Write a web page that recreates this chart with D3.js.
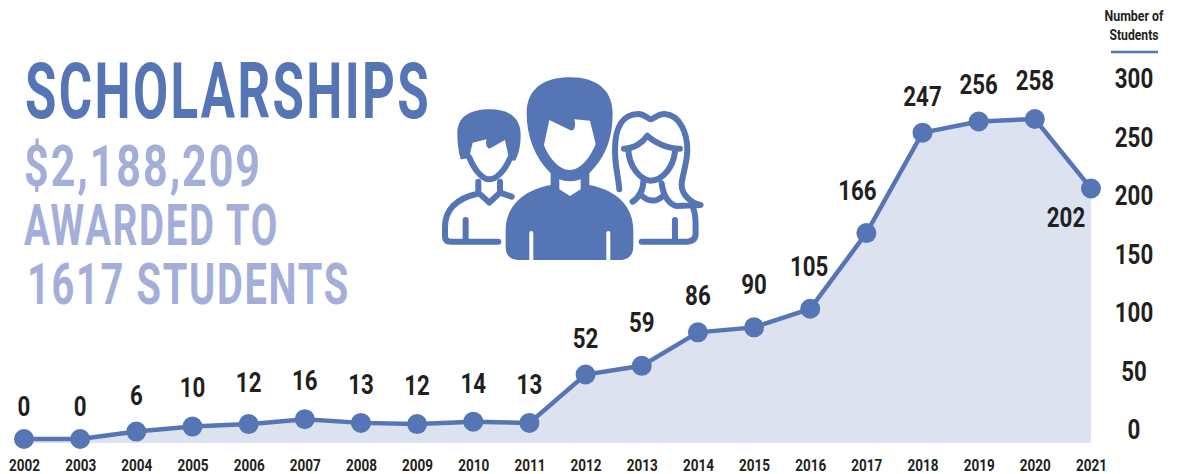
<!DOCTYPE html>
<html>
<head>
<meta charset="utf-8">
<script src="https://d3js.org/d3.v7.min.js"></script>
<style>
  html, body { margin: 0; padding: 0; background: #fff; }
  svg { display: block; }
  text { font-family: Roboto, sans-serif; font-weight: 700; }
</style>
</head>
<body>
<svg id="chart" width="1178" height="474"></svg>
<script>
const years = ['2002','2003','2004','2005','2006','2007','2008','2009','2010','2011','2012','2013','2014','2015','2016','2017','2018','2019','2020','2021'];
const students = [0,0,6,10,12,16,13,12,14,13,52,59,86,90,105,166,247,256,258,202];
const axisTicks = [0,50,100,150,200,250,300];
const titleLines = ['SCHOLARSHIPS','$2,188,209','AWARDED TO','1617 STUDENTS'];
const axisTitle = ['Number of','Students'];

// how far each value label sits from its point
const labelDx = [0,0,0,0,0,0,0,0,0,0,0,0,0,0,-1,-9,0,0,0,-25];
const labelDy = [-33,-33,-37,-40,-42,-39,-39,-39,-39,-39,-37,-44,-37,-43,-43,-43,-37,-37,-39,29];

const blue = '#5575b5';
const lightBlue = '#a3afd8';
const fillBlue = '#dde2f1';
const ink = '#231f20';

const svg = d3.select('#chart');

const x = d3.scalePoint().domain(years).range([24, 1091]);
const y = d3.scaleLinear().domain([0, 258]).range([439, 119]);
// the printed axis does not line up with the points, so it has its own scale
const yTicks = d3.scaleLinear().domain([0, 300]).range([429, 78]);

// area
const area = d3.area()
  .x((d, i) => x(years[i]))
  .y0(443)
  .y1(d => y(d));
svg.append('path').datum(students).attr('d', area).attr('fill', fillBlue);

// line and points
const line = d3.line().x((d, i) => x(years[i])).y(d => y(d));
svg.append('path').datum(students).attr('d', line)
  .attr('fill', 'none').attr('stroke', blue).attr('stroke-width', 4.5);
svg.selectAll('circle.pt').data(students).join('circle')
  .attr('class', 'pt')
  .attr('cx', (d, i) => x(years[i]))
  .attr('cy', d => y(d))
  .attr('r', 10)
  .attr('fill', blue);

// value labels
svg.selectAll('text.val').data(students).join('text')
  .attr('class', 'val')
  .attr('x', (d, i) => x(years[i]) + labelDx[i])
  .attr('y', (d, i) => y(d) + labelDy[i] + 10)
  .attr('text-anchor', 'middle')
  .attr('font-size', 27)
  .attr('fill', ink)
  .attr('textLength', d => String(d).length * 12.8)
  .attr('lengthAdjust', 'spacingAndGlyphs')
  .text(d => d);

// x axis
const xAxisG = svg.append('g').attr('transform', 'translate(0,471)')
  .call(d3.axisBottom(x).tickSize(0).tickPadding(0));
xAxisG.select('.domain').remove();
xAxisG.selectAll('text')
  .attr('y', 0).attr('dy', 0)
  .attr('font-size', 16)
  .attr('fill', ink)
  .attr('textLength', 31)
  .attr('lengthAdjust', 'spacingAndGlyphs');

// y axis
const yAxisG = svg.append('g').attr('transform', 'translate(1134,0)')
  .call(d3.axisRight(yTicks).tickValues(axisTicks).tickSize(0).tickPadding(0));
yAxisG.select('.domain').remove();
yAxisG.selectAll('text')
  .attr('x', 0).attr('dy', '0.36em')
  .attr('text-anchor', 'middle')
  .attr('font-size', 27)
  .attr('fill', ink)
  .attr('textLength', d => String(d).length * 12.8)
  .attr('lengthAdjust', 'spacingAndGlyphs');

// axis title
svg.selectAll('text.axt').data(axisTitle).join('text')
  .attr('class', 'axt')
  .attr('x', 1134)
  .attr('y', (d, i) => 21 + i * 19)
  .attr('text-anchor', 'middle')
  .attr('font-size', 14)
  .attr('fill', ink)
  .attr('textLength', (d, i) => [59, 49][i])
  .attr('lengthAdjust', 'spacingAndGlyphs')
  .text(d => d);
svg.append('line')
  .attr('x1', 1111).attr('x2', 1158).attr('y1', 52).attr('y2', 52)
  .attr('stroke', blue).attr('stroke-width', 2.5);

// headline block
const titleStyle = [
  { x: 25, y: 118, size: 77, w: 406, c: blue, ls: 3.5 },
  { x: 24, y: 186, size: 58, w: 238, c: lightBlue, ls: 2.5 },
  { x: 24, y: 245, size: 58, w: 255, c: lightBlue, ls: 2.5 },
  { x: 27, y: 304, size: 58, w: 323, c: lightBlue, ls: 2.5 }
];
svg.selectAll('text.ttl').data(titleLines).join('text')
  .attr('class', 'ttl')
  .attr('x', (d, i) => titleStyle[i].x)
  .attr('y', (d, i) => titleStyle[i].y)
  .attr('font-size', (d, i) => titleStyle[i].size)
  .attr('letter-spacing', (d, i) => titleStyle[i].ls)
  .attr('fill', (d, i) => titleStyle[i].c)
  .attr('textLength', (d, i) => titleStyle[i].w)
  .attr('lengthAdjust', 'spacingAndGlyphs')
  .text(d => d);

// people icon, drawn at 3x and scaled down
const icon = svg.append('g').attr('transform', 'translate(430,70) scale(0.3333)');
const outline = p => icon.append('path').attr('d', p).attr('fill', 'none')
  .attr('stroke', blue).attr('stroke-width', 18)
  .attr('stroke-linecap', 'round').attr('stroke-linejoin', 'round');
const solid = (p, c) => icon.append('path').attr('d', p).attr('fill', c);

// left boy
solid('M82,190 C82,140 120,118 180,118 C240,118 272,145 272,195 C272,230 265,255 255,272 L238,270 L225,210 L178,236 C168,232 166,220 170,208 L128,218 L117,265 L92,268 C84,240 82,215 82,190 Z', blue);
outline('M118,262 C135,305 160,328 178,328 C200,328 225,300 240,265');
outline('M145,335 L145,368 L178,398 L210,368 L210,335');
outline('M140,372 C80,385 45,420 45,470 L45,498 Q45,515 62,515 L205,515');
outline('M210,368 L245,380');
outline('M107,450 L107,510');

// right girl
outline('M568,358 C565,320 555,290 555,240 C555,170 580,132 625,132 C645,132 655,148 662,148 C670,148 685,130 705,132 C750,135 772,190 772,240 C772,280 755,320 755,345 C755,375 785,400 812,405 L740,408 C720,405 700,380 695,340');
outline('M582,236 C615,236 640,215 652,197 C670,215 710,236 750,236');
outline('M595,240 C598,290 630,330 662,332 C700,330 730,290 735,245');
outline('M640,335 C640,360 625,385 608,395');
outline('M630,372 C655,398 680,398 702,375');
outline('M790,415 C800,440 796,470 797,490 Q797,515 770,515 L635,515');
outline('M735,450 L735,510');

// centre man
solid('M290,130 C290,50 350,22 420,22 C500,22 548,60 548,130 C548,200 530,260 478,310 L478,345 C560,360 610,410 610,480 L610,530 C610,555 595,570 570,570 L265,570 C240,570 227,555 227,530 L227,480 C227,410 280,360 362,345 L362,310 C315,265 290,200 290,130 Z', blue);
solid('M358,150 L415,178 C430,188 440,175 433,148 L480,152 L497,222 C480,265 450,300 420,300 C385,300 355,260 342,225 Z', '#fff');
solid('M388,328 C405,336 435,336 452,328 L452,358 L420,378 L388,358 Z', '#fff');
solid('M298,490 Q298,483 304,483 Q310,483 310,490 L310,570 L298,570 Z', '#fff');
solid('M529,490 Q529,483 535,483 Q541,483 541,490 L541,570 L529,570 Z', '#fff');
</script>
</body>
</html>
